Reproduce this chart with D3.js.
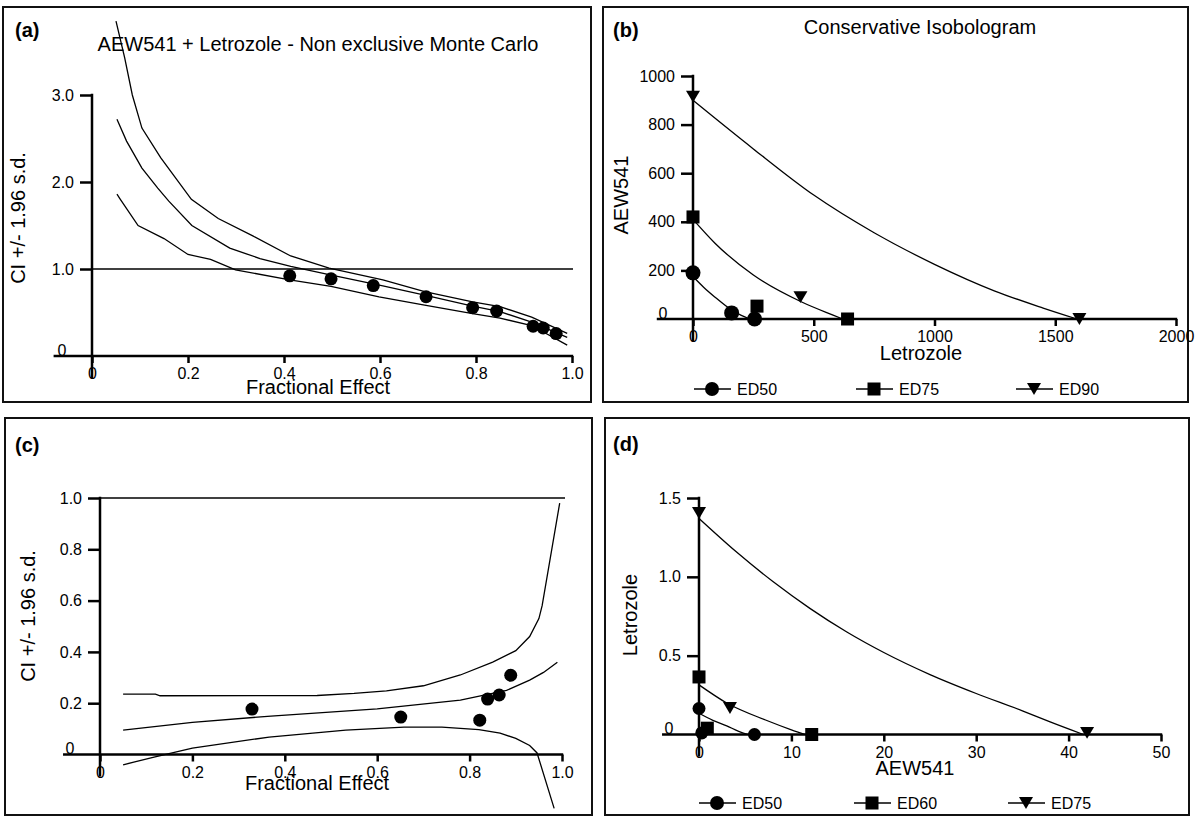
<!DOCTYPE html>
<html><head><meta charset="utf-8">
<script src="https://cdn.jsdelivr.net/npm/d3@7"></script>
<style>
body{margin:0;background:#fff;}
svg{display:block;font-family:"Liberation Sans",Arial,Helvetica,sans-serif;}
</style></head><body>
<svg id="chart" width="1200" height="825"></svg>
<script>
// ================= DATA =================
// Panel (a): AEW541 + Letrozole - Non exclusive Monte Carlo
const aPointFE = [0.412,0.498,0.586,0.696,0.793,0.843,0.919,0.940,0.967];
const aPointCI = [0.922,0.887,0.809,0.681,0.556,0.517,0.342,0.322,0.258];
const aUpperFE = [0.05,0.068,0.084,0.104,0.143,0.207,0.263,0.335,0.414,0.494,0.606,0.693,0.793,0.85,0.916,0.99];
const aUpperCI = [3.85,3.43,3.0,2.62,2.28,1.80,1.58,1.38,1.15,1.01,0.875,0.74,0.623,0.567,0.447,0.26];
const aMidFE   = [0.052,0.072,0.104,0.137,0.16,0.208,0.287,0.35,0.414,0.494,0.606,0.693,0.793,0.85,0.916,0.99];
const aMidCI   = [2.72,2.47,2.16,1.93,1.78,1.50,1.24,1.12,1.03,0.935,0.805,0.70,0.572,0.51,0.389,0.215];
const aLowerFE = [0.052,0.058,0.096,0.15,0.2,0.247,0.299,0.412,0.498,0.598,0.693,0.793,0.85,0.916,0.99];
const aLowerCI = [1.86,1.81,1.50,1.35,1.167,1.11,0.99,0.875,0.80,0.68,0.584,0.486,0.435,0.35,0.125];
const aXTicks = [0,0.2,0.4,0.6,0.8,1.0];
const aXTickLabels = ["0","0.2","0.4","0.6","0.8","1.0"];
const aYTicks = [0,1,2,3];
const aYTickLabels = ["0","1.0","2.0","3.0"];

// Panel (b): Conservative Isobologram (x = Letrozole, y = AEW541)
const bSeriesNames = ["ED50","ED75","ED90"];
const bED50PtX = [0,160,255],   bED50PtY = [190,25,0];
const bED75PtX = [0,265,640],   bED75PtY = [420,53,0];
const bED90PtX = [0,445,1600],  bED90PtY = [915,90,0];
const bED50CurveX = [0,45,90,160,200,235];
const bED50CurveY = [175,130,91,37,15,0];
const bED75CurveX = [0,90,250,450,580,620];
const bED75CurveY = [410,313,181,70,16,0];
const bED90CurveX = [0,250,500,750,1000,1250,1450,1590];
const bED90CurveY = [900,700,510,355,225,115,45,0];
const bXTicks = [0,500,1000,1500,2000];
const bYTicks = [0,200,400,600,800,1000];

// Panel (c)
const cPointFE = [0.329,0.651,0.822,0.839,0.864,0.889];
const cPointCI = [0.177,0.146,0.134,0.216,0.232,0.309];
const cUpperFE = [0.05,0.12,0.13,0.47,0.55,0.62,0.70,0.78,0.85,0.90,0.93,0.95,0.957,0.995];
const cUpperCI = [0.235,0.235,0.229,0.23,0.238,0.248,0.268,0.31,0.36,0.405,0.46,0.53,0.58,0.98];
const cMidFE   = [0.05,0.2,0.37,0.6,0.78,0.88,0.93,0.96,0.99];
const cMidCI   = [0.095,0.125,0.15,0.178,0.212,0.25,0.29,0.32,0.36];
const cLowerFE = [0.05,0.117,0.2,0.366,0.532,0.658,0.74,0.82,0.866,0.90,0.93,0.946,0.983];
const cLowerCI = [-0.04,-0.01,0.025,0.068,0.095,0.107,0.107,0.097,0.083,0.063,0.035,0.006,-0.21];
const cXTicks = [0,0.2,0.4,0.6,0.8,1.0];
const cXTickLabels = ["0","0.2","0.4","0.6","0.8","1.0"];
const cYTicks = [0,0.2,0.4,0.6,0.8,1.0];
const cYTickLabels = ["0","0.2","0.4","0.6","0.8","1.0"];

// Panel (d): (x = AEW541, y = Letrozole)
const dSeriesNames = ["ED50","ED60","ED75"];
const dED50PtX = [0,0.3,6],     dED50PtY = [0.165,0.01,0];
const dED60PtX = [0,0.9,12.2],  dED60PtY = [0.365,0.04,0];
const dED75PtX = [0,3.35,42],   dED75PtY = [1.405,0.168,0.01];
const dED50CurveX = [0,1.5,3,4.3,5.3];
const dED50CurveY = [0.135,0.09,0.055,0.02,0];
const dED60CurveX = [0,3,7.2,10,11.5];
const dED60CurveY = [0.315,0.2,0.092,0.03,0];
const dED75CurveX = [0,4,8,12,16,20,25,30,35,38,41.6];
const dED75CurveY = [1.37,1.16,0.97,0.80,0.65,0.52,0.38,0.26,0.15,0.08,0];
const dXTicks = [0,10,20,30,40,50];
const dYTicks = [0,0.5,1.0,1.5];
const dYTickLabels = ["0","0.5","1.0","1.5"];

// ================= DRAWING =================
const svg = d3.select("#chart");
svg.append("rect").attr("width",1200).attr("height",825).attr("fill","#fff");
const zip = (xs, ys) => xs.map((v,i)=>[v, ys[i]]);

const markers = {
  circle: (g, r) => g.append("circle").attr("r", r),
  square: (g, r) => g.append("rect").attr("x",-r).attr("y",-r).attr("width",2*r).attr("height",2*r),
  tri:    (g, r) => g.append("path").attr("d",`M${-r},${-r*0.85}L${r},${-r*0.85}L0,${r*0.85}Z`)
};

function panel(cfg){
  const g = svg.append("g");
  const [bx0,by0,bx1,by1] = cfg.box;
  g.append("rect").attr("x",bx0).attr("y",by0).attr("width",bx1-bx0).attr("height",by1-by0)
    .attr("fill","none").attr("stroke","#111").attr("stroke-width",2);
  g.append("text").attr("x",cfg.letterPos[0]).attr("y",cfg.letterPos[1])
    .attr("font-size",20).attr("font-weight","bold").text(cfg.letter);
  if(cfg.title){
    g.append("text").attr("x",cfg.titlePos[0]).attr("y",cfg.titlePos[1])
      .attr("text-anchor","middle").attr("font-size",20).text(cfg.title);
  }
  const x = d3.scaleLinear().domain(cfg.xDomain).range(cfg.xRange);
  const y = d3.scaleLinear().domain(cfg.yDomain).range(cfg.yRange);
  const y0 = y(0), x0 = x(0);

  // x axis
  const xa = g.append("g").attr("transform",`translate(0,${y0})`)
    .call(d3.axisBottom(x).tickValues(cfg.xTicks).tickFormat((d,i)=>cfg.xTickLabels[i])
      .tickSize(7).tickPadding(5).tickSizeOuter(0));
  xa.select(".domain").remove();
  xa.attr("font-family",null).attr("font-size",16);
  xa.selectAll(".tick line").attr("stroke","#000").attr("stroke-width",2.5);
  xa.selectAll(".tick text").attr("fill","#000");
  g.append("line").attr("x1",x(cfg.xExt)).attr("x2",x(cfg.xDomain[1])+1.2)
    .attr("y1",y0).attr("y2",y0).attr("stroke","#000").attr("stroke-width",2.5);

  // y axis
  const ya = g.append("g").attr("transform",`translate(${x0},0)`)
    .call(d3.axisLeft(y).tickValues(cfg.yTicks).tickFormat((d,i)=>cfg.yTickLabels[i])
      .tickSize(12).tickPadding(6).tickSizeOuter(0));
  ya.select(".domain").remove();
  ya.attr("font-family",null).attr("font-size",16);
  ya.selectAll(".tick line").attr("stroke","#000").attr("stroke-width",2.5);
  ya.selectAll(".tick text").attr("fill","#000");
  ya.selectAll(".tick").filter(d=>d===0).select("line").remove();
  ya.selectAll(".tick").filter(d=>d===0).select("text")
    .attr("x",-30).attr("text-anchor","middle").attr("dy",null).attr("y",-1);
  g.append("line").attr("x1",x0).attr("x2",x0).attr("y1",y0+22).attr("y2",y(cfg.yDomain[1])-1.2)
    .attr("stroke","#000").attr("stroke-width",2.5);

  // axis titles
  g.append("text").attr("x",cfg.xLabelPos[0]).attr("y",cfg.xLabelPos[1])
    .attr("text-anchor","middle").attr("font-size",20).text(cfg.xLabel);
  g.append("text").attr("transform",`translate(${cfg.yLabelPos[0]},${cfg.yLabelPos[1]}) rotate(-90)`)
    .attr("text-anchor","middle").attr("font-size",20).text(cfg.yLabel);

  // reference line
  if(cfg.refLine){
    g.append("line").attr("x1",x0).attr("x2",x(cfg.refLine[1])+cfg.refLine[2])
      .attr("y1",y(cfg.refLine[0])).attr("y2",y(cfg.refLine[0]))
      .attr("stroke","#000").attr("stroke-width",1.3);
  }
  // curves
  cfg.curves.forEach(c=>{
    const line = d3.line().x(d=>x(d[0])).y(d=>y(d[1])).curve(c.smooth ? d3.curveMonotoneX : d3.curveLinear);
    g.append("path").attr("d",line(c.data)).attr("fill","none").attr("stroke","#000").attr("stroke-width",1.3);
  });
  // points
  cfg.points.forEach(p=>{
    p.data.forEach(d=>{
      const m = g.append("g").attr("transform",`translate(${x(d[0])},${y(d[1])})`);
      markers[p.shape](m, p.size).attr("fill","#000");
    });
  });
  // legend
  if(cfg.legend){
    cfg.legend.items.forEach((it,i)=>{
      const lx = cfg.legend.xs[i], ly = cfg.legend.y;
      g.append("line").attr("x1",lx).attr("x2",lx+37).attr("y1",ly).attr("y2",ly)
        .attr("stroke","#000").attr("stroke-width",1.5);
      const m = g.append("g").attr("transform",`translate(${lx+18},${ly})`);
      markers[it.shape](m, it.size).attr("fill","#000");
      g.append("text").attr("x",lx+43).attr("y",ly+6).attr("font-size",16).text(it.name);
    });
  }
}

panel({
  box:[3,7,591,402], letter:"(a)", letterPos:[15,37],
  title:"AEW541 + Letrozole - Non exclusive Monte Carlo", titlePos:[318,51],
  xDomain:[0,1], xRange:[92,572], yDomain:[0,3], yRange:[356,95], xExt:-0.08,
  xTicks:aXTicks, xTickLabels:aXTickLabels, yTicks:aYTicks, yTickLabels:aYTickLabels,
  xLabel:"Fractional Effect", xLabelPos:[318,394], yLabel:"CI +/- 1.96 s.d.", yLabelPos:[25,218],
  refLine:[1,1,1],
  curves:[{data:zip(aUpperFE,aUpperCI)},{data:zip(aMidFE,aMidCI)},{data:zip(aLowerFE,aLowerCI)}],
  points:[{shape:"circle",size:6.5,data:zip(aPointFE,aPointCI)}]
});

panel({
  box:[603,7,1188,402], letter:"(b)", letterPos:[613,37],
  title:"Conservative Isobologram", titlePos:[920,34],
  xDomain:[0,2000], xRange:[693,1176], yDomain:[0,1000], yRange:[319,76], xExt:-150,
  xTicks:bXTicks, xTickLabels:bXTicks.map(String), yTicks:bYTicks, yTickLabels:bYTicks.map(String),
  xLabel:"Letrozole", xLabelPos:[921,360], yLabel:"AEW541", yLabelPos:[628,195],
  curves:[{smooth:true,data:zip(bED50CurveX,bED50CurveY)},{smooth:true,data:zip(bED75CurveX,bED75CurveY)},{smooth:true,data:zip(bED90CurveX,bED90CurveY)}],
  points:[{shape:"circle",size:7.5,data:zip(bED50PtX,bED50PtY)},
          {shape:"square",size:6.5,data:zip(bED75PtX,bED75PtY)},
          {shape:"tri",size:7,data:zip(bED90PtX,bED90PtY)}],
  legend:{y:389, xs:[694,856,1016], items:[
    {name:bSeriesNames[0],shape:"circle",size:7},
    {name:bSeriesNames[1],shape:"square",size:6.5},
    {name:bSeriesNames[2],shape:"tri",size:7}]}
});

panel({
  box:[5,418,592,815], letter:"(c)", letterPos:[15,452],
  xDomain:[0,1], xRange:[100,562], yDomain:[0,1], yRange:[754.5,498], xExt:-0.08,
  xTicks:cXTicks, xTickLabels:cXTickLabels, yTicks:cYTicks, yTickLabels:cYTickLabels,
  xLabel:"Fractional Effect", xLabelPos:[317,790], yLabel:"CI +/- 1.96 s.d.", yLabelPos:[35,616],
  refLine:[1,1,3],
  curves:[{data:zip(cUpperFE,cUpperCI)},{data:zip(cMidFE,cMidCI)},{data:zip(cLowerFE,cLowerCI)}],
  points:[{shape:"circle",size:6.5,data:zip(cPointFE,cPointCI)}]
});

panel({
  box:[605,418,1189,815], letter:"(d)", letterPos:[613,451],
  xDomain:[0,50], xRange:[699,1161], yDomain:[0,1.5], yRange:[734.5,498], xExt:-4,
  xTicks:dXTicks, xTickLabels:dXTicks.map(String), yTicks:dYTicks, yTickLabels:dYTickLabels,
  xLabel:"AEW541", xLabelPos:[915,775], yLabel:"Letrozole", yLabelPos:[637,615],
  curves:[{smooth:true,data:zip(dED50CurveX,dED50CurveY)},{smooth:true,data:zip(dED60CurveX,dED60CurveY)},{smooth:true,data:zip(dED75CurveX,dED75CurveY)}],
  points:[{shape:"circle",size:6.5,data:zip(dED50PtX,dED50PtY)},
          {shape:"square",size:6.5,data:zip(dED60PtX,dED60PtY)},
          {shape:"tri",size:7,data:zip(dED75PtX,dED75PtY)}],
  legend:{y:803, xs:[699,854,1008], items:[
    {name:dSeriesNames[0],shape:"circle",size:7},
    {name:dSeriesNames[1],shape:"square",size:6.5},
    {name:dSeriesNames[2],shape:"tri",size:7}]}
});
</script>
</body></html>
